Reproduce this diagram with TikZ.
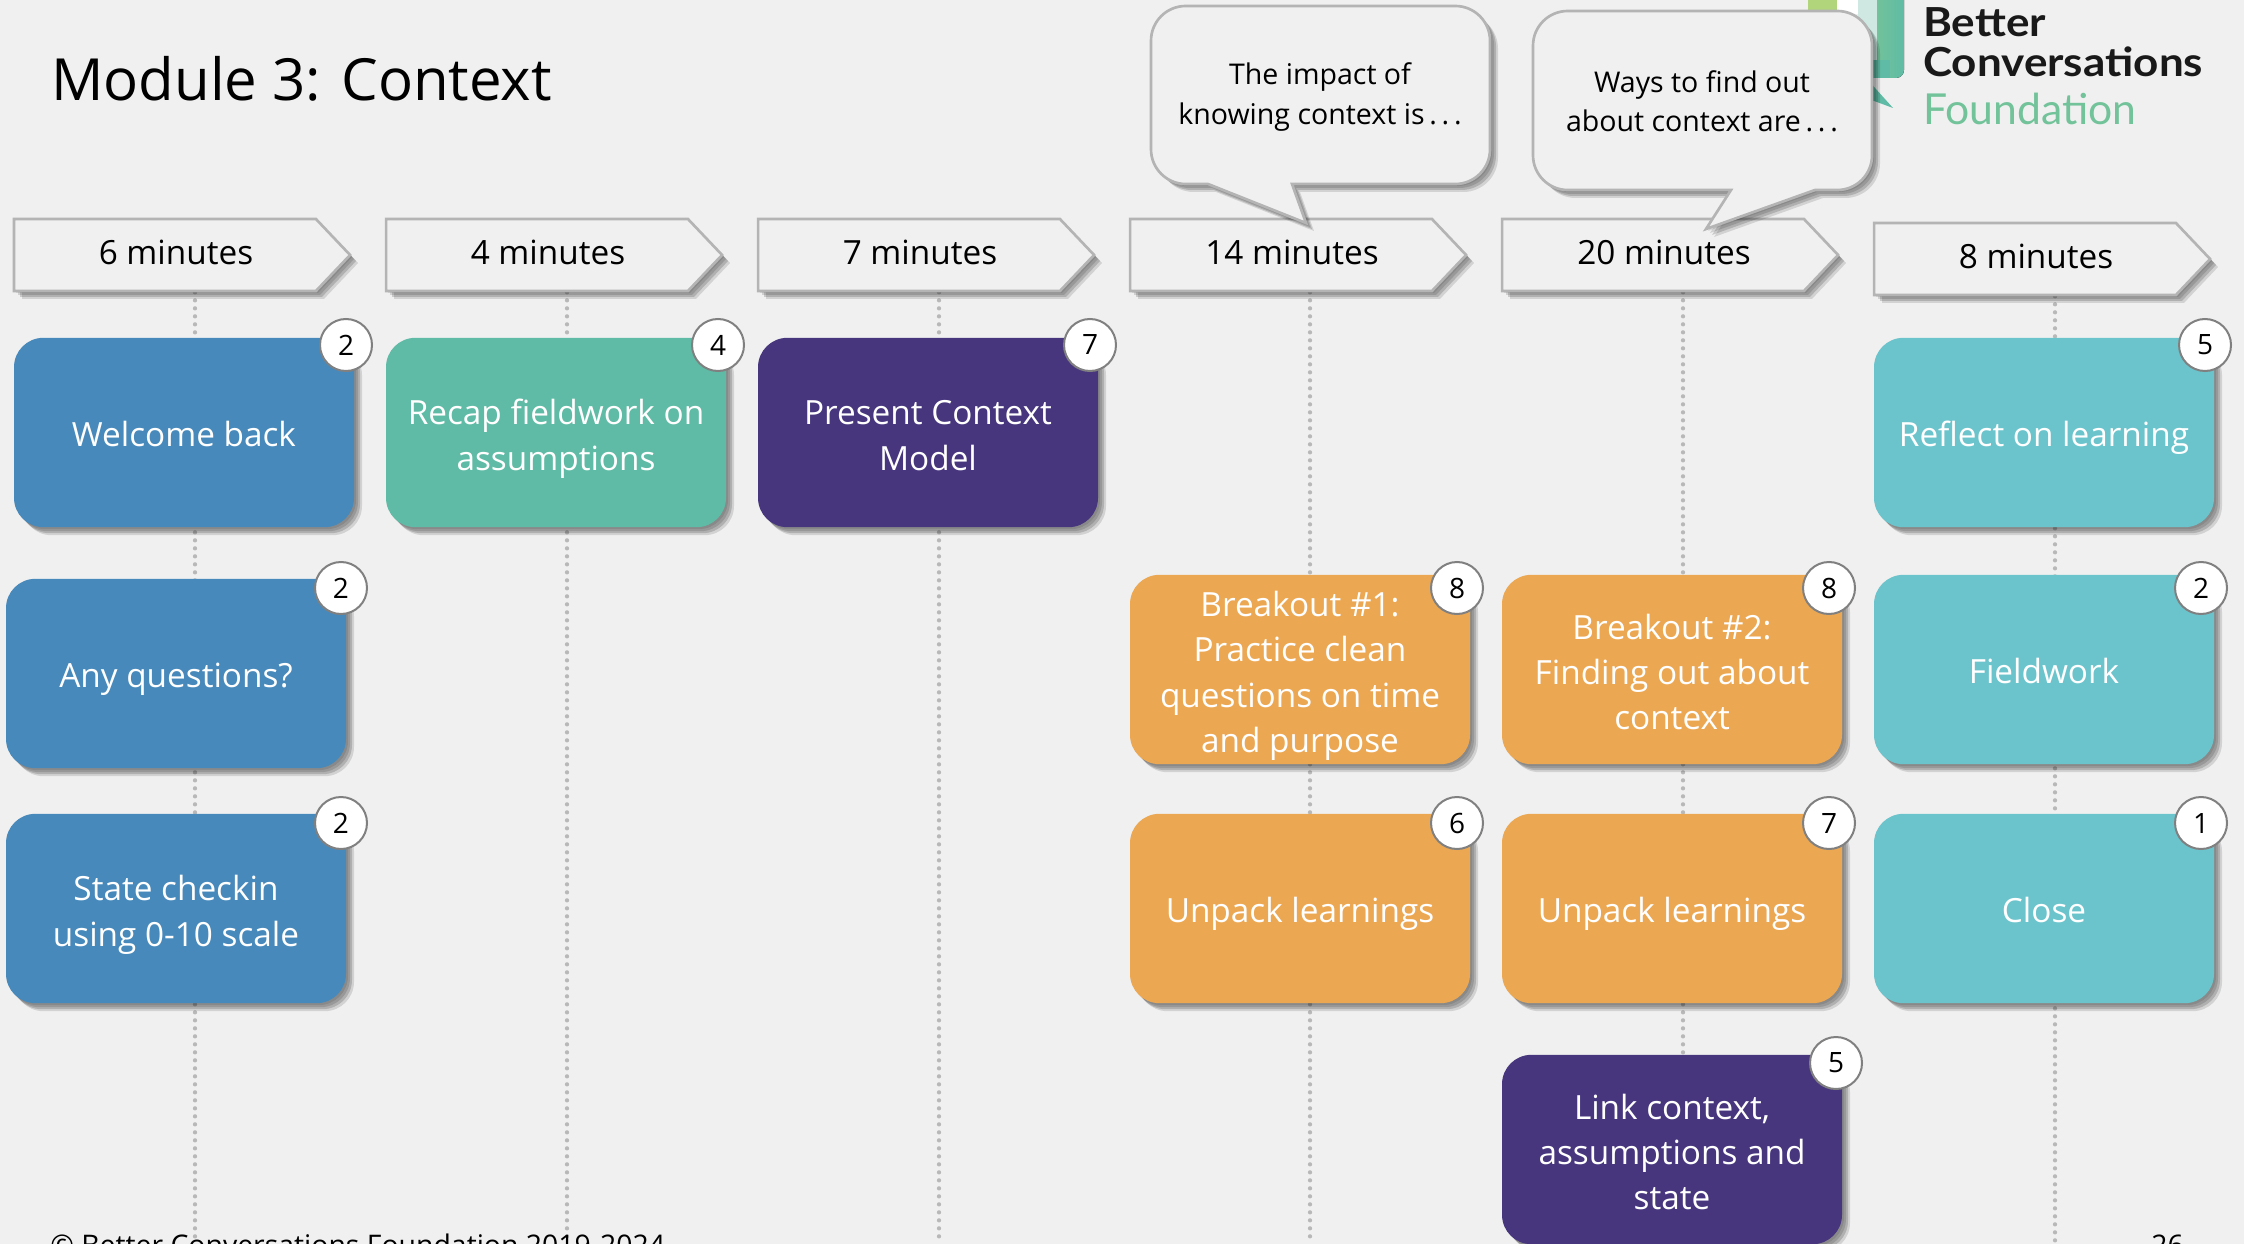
\documentclass[tikz,border=0pt]{standalone}
\usepackage{fontspec}
\setmainfont{Open Sans}
\newfontfamily\logofont[FakeStretch=1.1]{Lato}
\newfontfamily\logolight{Lato}
\usetikzlibrary{shadows,shapes.symbols,backgrounds,calc}
\definecolor{pagebg}{HTML}{F0F0F0}
\definecolor{blueb}{HTML}{4789BB}
\definecolor{greenb}{HTML}{5FBBA5}
\definecolor{purpleb}{HTML}{47367E}
\definecolor{orangeb}{HTML}{ECA752}
\definecolor{tealb}{HTML}{6BC4CC}
\definecolor{edgeg}{HTML}{B4B4B4}
\definecolor{dotg}{HTML}{B8B8B8}
\definecolor{badgeg}{HTML}{808080}
\definecolor{logogreen}{HTML}{72C29A}
\definecolor{logolime}{HTML}{B0D57A}
\definecolor{logopale}{HTML}{CFE9E2}
\newcommand{\sstrut}{\rule[-6pt]{0pt}{33pt}}
\newcommand{\tstrut}{\rule{0pt}{29pt}}
\newcommand{\dstrut}{\rule[-6.4pt]{0pt}{6.4pt}}
\newcommand{\hshift}{\hspace*{16.5pt}\rule[-4.5pt]{0pt}{0pt}}
\tikzset{
  softshadow/.style={
    general shadow={shadow xshift=1.5pt,shadow yshift=-1.5pt,fill=black,opacity=.10},
    general shadow={shadow xshift=3pt,shadow yshift=-3pt,fill=black,opacity=.13},
    general shadow={shadow xshift=4.5pt,shadow yshift=-4.5pt,fill=black,opacity=.16},
    general shadow={shadow xshift=6pt,shadow yshift=-6pt,fill=black,opacity=.12}},
  boxnode/.style={rectangle,rounded corners=22pt,minimum width=255pt,minimum height=142pt,inner sep=0pt,
    align=center,text=white,font=\fontsize{25}{34}\selectfont,softshadow},
  badge/.style={circle,draw=badgeg,line width=1.5pt,fill=white,minimum size=39pt,inner sep=0pt,
    text=black,font=\fontsize{21}{25}\selectfont},
  headnode/.style={signal,signal to=east,signal pointer angle=93,draw=edgeg,line width=2pt,fill=pagebg,
    minimum width=252pt,minimum height=54pt,inner sep=0pt,font=\fontsize{25}{30}\selectfont,softshadow},
  calloutshape/.style={draw=edgeg,line width=2pt,fill=pagebg,softshadow},
  calltext/.style={align=center,inner sep=0pt,font=\fontsize{21.4}{29.3}\selectfont},
  dotline/.style={draw=dotg,line width=3.2pt,line cap=round,dash pattern=on 0pt off 6pt},
  logotext/.style={anchor=base west,inner sep=0pt}
}
\begin{document}
\begin{tikzpicture}[x=.75pt,y=-.75pt]
\useasboundingbox (0,0) rectangle (2244,1244);
\clip (0,0) rectangle (2244,1244);
\begin{pgfonlayer}{background}
\fill[pagebg] (0,0) rectangle (2244,1244);
\end{pgfonlayer}
% logo
\fill[logolime] (1808,-2) rectangle (1837,14);
\fill[white] (1837,-2) rectangle (1858,14);
\fill[logopale] (1858,-2) rectangle (1878,60);
\fill[left color=logogreen,right color=greenb,rounded corners=6pt] (1877,-20) rectangle (1904,78);
\fill[greenb] (1866,78) -- (1893,108) -- (1866,98) -- cycle;
\fill[greenb] (1866,60) rectangle (1890,78);
\node[logotext,font=\logofont\bfseries\fontsize{30}{36}\selectfont,text=black!90] (lg1) at (1923,37) {Better};
\node[logotext,font=\logofont\bfseries\fontsize{30}{36}\selectfont,text=black!90] (lg2) at (1923,77) {Conversations};
\node[logotext,font=\logolight\fontsize{32}{36}\selectfont,text=logogreen] (lg3) at (1923,125) {Foundation};
% title and footer
\node[anchor=base west,inner sep=0pt,font=\fontsize{43.6}{50}\selectfont] (title) at (51,101) {Module 3: Context};
\node[anchor=base west,inner sep=0pt,font=\fontsize{21.3}{25}\selectfont] (foot) at (50,1255) {© Better Conversations Foundation 2019-2024};
\node[anchor=base west,inner sep=0pt,font=\fontsize{21.3}{25}\selectfont] (pageno) at (2151,1255) {26};
% headers
\node[headnode] (h1) at (165,255) {\hshift 6 minutes};
\node[headnode] (h2) at (537,255) {\hshift 4 minutes};
\node[headnode] (h3) at (909,255) {\hshift 7 minutes};
\node[headnode] (h4) at (1281,255) {\hshift 14 minutes};
\node[headnode] (h5) at (1653,255) {\hshift 20 minutes};
\node[headnode] (h6) at (2025,259) {\hshift 8 minutes};
% callouts
\draw[calloutshape,rounded corners=26pt] (1151,100) -- (1151,6) -- (1490,6) -- (1490,184) [sharp corners] -- (1292,184) -- (1306,223) -- (1208,184) [rounded corners=26pt] -- (1151,184) -- cycle;
\node[calltext] (c1) at (1320,97) {The impact of\\knowing context is\,.\,.\,.};
\draw[calloutshape,rounded corners=26pt] (1533,100) -- (1533,11) -- (1872,11) -- (1872,190) [sharp corners] -- (1815,190) -- (1706,229) -- (1731,190) [rounded corners=26pt] -- (1533,190) -- cycle;
\node[calltext] (c2) at (1702,101) {Ways to find out\\about context are\,.\,.\,.};
% boxes
\node[boxnode,fill=blueb] (b1) at (184,432.5) {\sstrut Welcome back};
\node[boxnode,fill=blueb] (b2) at (176,673.5) {\sstrut Any questions?};
\node[boxnode,fill=blueb] (b3) at (176,908.5) {\tstrut State checkin\\using 0-10 scale\dstrut};
\node[boxnode,fill=greenb] (b4) at (556,432.5) {\tstrut Recap fieldwork on\\assumptions\dstrut};
\node[boxnode,fill=purpleb] (b5) at (928,432.5) {\tstrut Present Context\\Model\dstrut};
\node[boxnode,fill=orangeb] (b6) at (1300,669.5) {\tstrut Breakout \#1:\\Practice clean\\questions on time\\and purpose\dstrut};
\node[boxnode,fill=orangeb] (b7) at (1300,908.5) {\sstrut Unpack learnings};
\node[boxnode,fill=orangeb] (b8) at (1672,669.5) {\tstrut Breakout \#2:\\Finding out about\\context\dstrut};
\node[boxnode,fill=orangeb] (b9) at (1672,908.5) {\sstrut Unpack learnings};
\node[boxnode,fill=purpleb] (b10) at (1672,1149.5) {\tstrut Link context,\\assumptions and\\state\dstrut};
\node[boxnode,fill=tealb] (b11) at (2044,432.5) {\sstrut Reflect on learning};
\node[boxnode,fill=tealb] (b12) at (2044,669.5) {\sstrut Fieldwork};
\node[boxnode,fill=tealb] (b13) at (2044,908.5) {\sstrut Close};
% badges
\node[badge] (n1) at (346,345) {2};
\node[badge] (n2) at (341,588) {2};
\node[badge] (n3) at (341,823) {2};
\node[badge] (n4) at (718,345) {4};
\node[badge] (n5) at (1090,345) {7};
\node[badge] (n6) at (1457,588) {8};
\node[badge] (n7) at (1457,823) {6};
\node[badge] (n8) at (1829,588) {8};
\node[badge] (n9) at (1829,823) {7};
\node[badge] (n10) at (1836,1063) {5};
\node[badge] (n11) at (2205,345) {5};
\node[badge] (n12) at (2201,588) {2};
\node[badge] (n13) at (2201,823) {1};
% timeline ends
\coordinate (e1) at (195,1244);
\coordinate (e2) at (567,1244);
\coordinate (e3) at (939,1244);
\coordinate (e4) at (1310,1244);
\coordinate (e5) at (1683,1244);
\coordinate (e6) at (2055,1244);
\begin{pgfonlayer}{background}
\foreach \i in {1,...,6}{\draw[dotline] (e\i |- h\i.south) -- (e\i);}
\end{pgfonlayer}
\end{tikzpicture}
\end{document}
